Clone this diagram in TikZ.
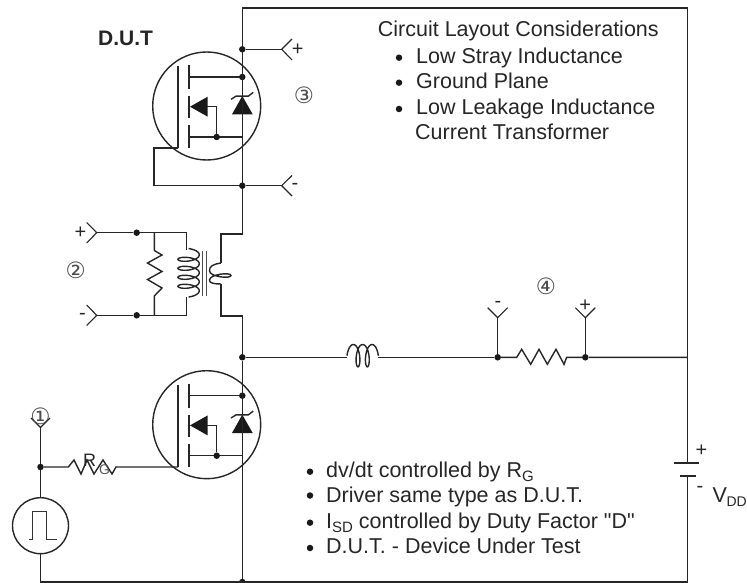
\documentclass[tikz,border=0pt]{standalone}
\usepackage{fontspec}
\setmainfont{Liberation Sans}
\newfontfamily\circfont{DejaVu Sans}
\newfontfamily\qf{Liberation Sans}
\newcommand{\sbs}[1]{\raisebox{-4pt}{\fontsize{15}{16}\selectfont #1}}
\tikzset{
  wire/.style={line width=1.4pt,color=black!85,line join=miter},
  termline/.style={line width=1.1pt,color=black!85,line join=miter},
  thinwire/.style={line width=0.6pt,color=black!80},
  dotj/.style={circle,fill=black!90,inner sep=0pt,minimum size=6.5pt},
  bul/.style={circle,fill=black!90,inner sep=0pt,minimum size=6.5pt},
  lbl/.style={inner sep=0pt,anchor=base west,font=\fontsize{21.5}{24}\selectfont,text=black!85},
  num/.style={inner sep=0pt,font=\circfont\fontsize{22.5}{24}\selectfont,text=black!70},
  sgn/.style={inner sep=0pt,font=\fontsize{20}{22}\selectfont,text=black!85},
}
\newcommand{\mosfet}[3]{%
  \begin{scope}[shift={(#1,#2)}]
    \draw[wire] (0,0) circle (54);
    \draw[wire] (-28.7,-40) -- (-28.7,42);
    \draw[wire] (-17.7,-41) -- (-17.7,-17);
    \draw[wire] (-17.7,-10) -- (-17.7,12);
    \draw[wire] (-17.7,19) -- (-17.7,42);
    \draw[wire] (-17.7,-29) -- (35.6,-29);
    \draw[wire] (-17.7,31) -- (35.6,31);
    \node[dotj] (#3d) at (35.6,-29) {};
    \node[dotj] (#3s) at (10,31) {};
    \fill[black!90] (-16.7,0.7) -- (1,-9.3) -- (1,10.7) -- cycle;
    \draw[wire] (0,0.7) -- (10,0.7) -- (#3s);
    \fill[black!90] (35.6,-10) -- (46,8.3) -- (25.3,8.3) -- cycle;
    \draw[wire] (24.3,-6.7) -- (29.3,-9.8) -- (41.6,-9.8) -- (46.6,-13.7);
  \end{scope}}
\begin{document}
\begin{tikzpicture}[x=1pt,y=-1pt]
\useasboundingbox (0,0) rectangle (747,583);
% coordinates
\coordinate (tl) at (242.3,8);
\coordinate (tr) at (687.5,8);
\coordinate (mid) at (242.3,357.3);
\coordinate (midr) at (687.5,357.3);
\coordinate (botr) at (687.5,582);
\coordinate (botl) at (40.5,582);
% MOSFETs
\mosfet{206.7}{106}{qa}
\mosfet{206.7}{424.7}{qb}
% main rails
\node[dotj] (bot) at (242.3,582) {};
\node[dotj] (jm) at (mid) {};
\draw[wire] (bot) -- (jm) -- (242.3,316) -- (221,316) -- (221,284);
\draw[wire] (221,263) -- (221,234) -- (242.3,234) -- (tl) -- (tr) -- (midr);
\draw[wire] (midr) -- (687.5,463);
\draw[wire] (687.5,476) -- (botr) -- (botl) -- (40.5,553.7);
% one-turn secondary
\draw[wire] (221,263) .. controls (214,264) and (209,266) .. (209.5,271)
  .. controls (210,277) and (231,279) .. (231,275.5)
  .. controls (231,272) and (210,274) .. (209.5,280)
  .. controls (209,283) and (214,284) .. (221,284);
% top terminals
\node[dotj] (j1) at (242.3,49.3) {};
\coordinate (t1) at (281.7,49.3);
\draw[wire] (j1) -- (t1);
\draw[termline] (292,39) -- (t1) -- (292,60);
\node[sgn] at (297.7,50) {+};
\node[dotj] (j2) at (242.3,185.7) {};
\coordinate (t2) at (281.7,185.7);
\draw[wire] (j2) -- (t2);
\draw[termline] (292,175.5) -- (t2) -- (292,196);
\node[sgn] at (295,186.5) {-};
\draw[wire] (178,148) -- (154,148) -- (154,185.7) -- (j2);
% primary
\coordinate (p1) at (96.7,232.7);
\coordinate (p2) at (96.7,315.3);
\draw[termline] (86.7,222.5) -- (p1) -- (86.7,243);
\draw[termline] (86.7,305) -- (p2) -- (86.7,325.5);
\node[sgn] at (80.5,233) {+};
\node[sgn] at (82.5,316) {-};
\node[dotj] (j3) at (136.7,232.7) {};
\node[dotj] (j4) at (136.7,315.3) {};
\draw[wire] (p1) -- (j3) -- (186.7,232.7) -- (186.7,250);
\draw[wire] (p2) -- (j4) -- (186.7,315.3) -- (186.7,297);
\draw[wire] (154.3,232.7) -- (154.3,250.5) -- (162,255) -- (147.5,263) -- (162,271.5) -- (147.5,279.5) -- (162,288) -- (154.3,296) -- (154.3,315.3);
% primary coil
\draw[wire] plot[smooth,domain=-90:1530,samples=109] ({188.6+10.7*cos(\x)},{254.8+0.025*\x+4*sin(\x)});
\draw[line width=0.8pt,black!70] (202.7,250.7) -- (202.7,296);
\draw[line width=0.8pt,black!70] (206,250.7) -- (206,296);
% series inductor
\draw[wire] (jm) -- (347,357.3);
\draw[wire] plot[smooth,domain=-90:810,samples=61] ({353.3+0.026*\x+4*sin(\x)},{355.7-11.2*cos(\x)});
% shunt and its terminals
\node[dotj] (j5) at (497.7,357.3) {};
\node[dotj] (j6) at (585.3,357.3) {};
\draw[wire] (378,357.3) -- (j5);
\draw[wire] (j5) -- (516.7,357.3) -- (521.7,349.3) -- (530.7,364.3) -- (539,349.3) -- (547.3,364.3) -- (556,349.3) -- (564,364.3) -- (566.7,357.3) -- (j6) -- (midr);
\coordinate (t5) at (497.7,317.7);
\coordinate (t6) at (585.3,317.7);
\draw[wire] (j5) -- (t5);
\draw[wire] (j6) -- (t6);
\draw[termline] (487.7,307.7) -- (t5) -- (507.7,307.7);
\draw[termline] (575.3,307.7) -- (t6) -- (595.3,307.7);
\node[sgn] at (498,304) {-};
\node[sgn] at (585.3,306) {+};
% gate drive
\node[dotj] (j7) at (40.5,467) {};
\draw[wire] (j7) -- (68.3,467) -- (74,460) -- (81,474) -- (87,460) -- (94,474) -- (103,460) -- (112,474) -- (116,467) -- (178,467);
\node[inner sep=0pt,anchor=base west,font=\fontsize{18}{20}\selectfont,text=black!85] (rg) at (83,466.5) {R\kern3pt\raisebox{-8pt}{\fontsize{14}{15}\selectfont\color{black!65}G}};
\node[circle,draw=black!85,line width=1.4pt,inner sep=0pt,minimum size=56pt] (gen) at (40.5,525.7) {};
\draw[thinwire] (29,539) -- (32.3,539) -- (32.3,511.7) -- (46.7,511.7) -- (46.7,539) -- (57,539);
\coordinate (t7) at (40.5,427.5);
\draw[wire] (t7) -- (j7) -- (gen);
\draw[termline] (31,418) -- (t7) -- (50,418);
\node[num] at (40.5,416) {①};
% source
\draw[wire] (674,463) -- (699,463);
\draw[wire] (680,476) -- (696,476);
\node[sgn] at (701.5,450.5) {+};
\node[sgn] at (700,489) {-};
\node[inner sep=0pt,anchor=base west,font=\fontsize{21.5}{24}\selectfont,text=black!85] at (712.5,502.7) {V\kern-0.5pt\raisebox{-4pt}{\fontsize{14}{16}\selectfont DD}};
% numbers
\node[num] at (304,95.7) {③};
\node[num] at (75.7,270.7) {②};
\node[num] at (546,286) {④};
% texts
\node[inner sep=0pt,anchor=base west,font=\bfseries\fontsize{21}{24}\selectfont,text=black!85] at (98,46) {D.U.T};
\node[lbl] at (377.7,37) {Circuit Layout Considerations};
\node[bul] at (399,57.7) {};
\node[lbl] at (416,63.3) {Low Stray Inductance};
\node[bul] at (399,82.7) {};
\node[lbl] at (416,88.3) {Ground Plane};
\node[bul] at (399,109) {};
\node[lbl] at (416,115) {Low Leakage Inductance};
\node[lbl] at (415,140) {Current Transformer};
\node[bul] at (310,471.7) {};
\node[lbl] at (326,477.7) {dv/dt controlled by R\sbs{G}};
\node[bul] at (310,495.5) {};
\node[lbl] at (326,502.7) {Driver same type as D.U.T.};
\node[bul] at (310,522.7) {};
\node[lbl] at (326,528) {I\sbs{SD} controlled by Duty Factor {\qf"}D{\qf"}};
\node[bul] at (310,548) {};
\node[lbl] at (326,553) {D.U.T. - Device Under Test};
\end{tikzpicture}
\end{document}
